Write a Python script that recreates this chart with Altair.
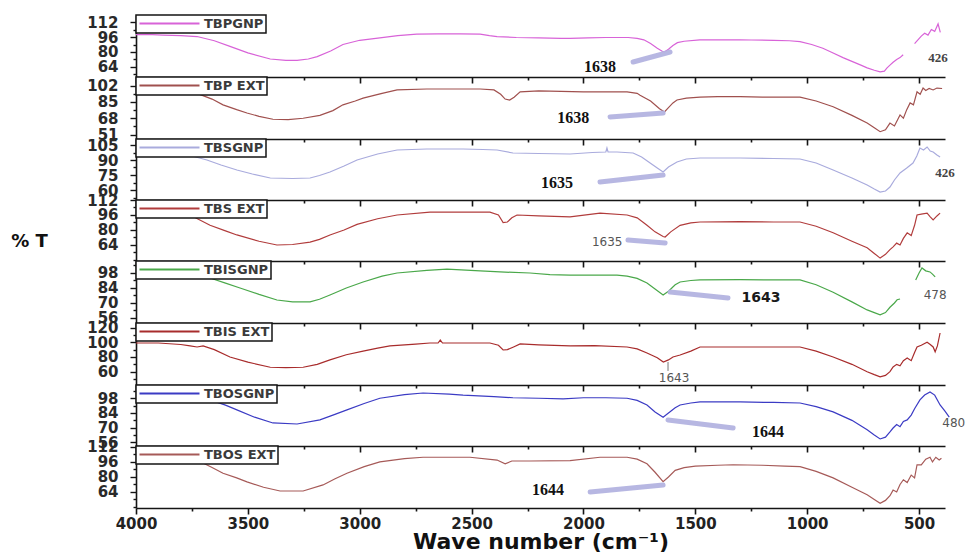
import altair as alt
import pandas as pd

# ---------------- data ----------------
names = ["TBPGNP", "TBP EXT", "TBSGNP", "TBS EXT", "TBISGNP", "TBIS EXT", "TBOSGNP", "TBOS EXT"]
colors = ["#d863d8", "#a0504e", "#a9abdd", "#b13c3c", "#4aa84a", "#a82c2c", "#3b3bc4", "#a65a58"]

y_domains = [[53.3, 119.5], [46.4, 111], [50, 111], [46.9, 112],
             [51.3, 109.2], [41.9, 126.2], [52.6, 110.6], [46.9, 113]]
y_major = [[112, 96, 80, 64], [102, 85, 68, 51], [105, 90, 75, 60], [112, 96, 80, 64],
           [98, 84, 70, 56], [120, 100, 80, 60], [98, 84, 70, 56], [112, 96, 80, 64]]
y_minor = [[104, 88, 72, 56], [93.5, 76.5, 59.5], [97.5, 82.5, 67.5, 52.5], [104, 88, 72, 56, 48],
           [105, 91, 77, 63], [110, 90, 70, 50], [105, 91, 77, 63], [104, 88, 72, 56, 48]]
heights = [62, 62, 61, 61, 62, 62, 61, 62]
x_ticks = [4000, 3750, 3500, 3250, 3000, 2750, 2500, 2250, 2000, 1750, 1500, 1250, 1000, 750, 500]

p1_wn = [4000, 3950, 3880, 3800, 3727, 3650, 3580, 3500, 3400, 3330,
         3280, 3230, 3190, 3130, 3075, 3000, 2910, 2830, 2745, 2650,
         2550, 2462, 2420, 2386, 2300, 2200, 2100, 2060, 1980, 1900,
         1800, 1760, 1730, 1700, 1670, 1650, 1638, 1620, 1600, 1580,
         1550, 1480, 1400, 1300, 1250, 1150, 1080, 1032, 980, 930,
         884, 840, 800, 760, 732, 700, 674, 655, 643, 630,
         616, 600, 585, 571,
         520, 505, 490, 475, 460, 445, 430, 415, 405]
p1_t = [98.5, 98.8, 98.0, 97.5, 96.5, 92, 86, 79, 72.5, 71,
        71, 72.5, 75, 81, 88, 92.5, 95, 97.5, 99, 99.3,
        99.3, 99, 97.5, 96.5, 95.5, 95, 94.5, 94.5, 95, 95.5,
        95.5, 94.5, 93, 89, 84, 81, 80, 83, 87, 90,
        91.5, 93, 93, 93, 92.8, 92.5, 92, 91, 88, 84,
        79, 74, 70, 66, 63, 60.5, 58.7, 59.5, 63, 66,
        69, 72, 74, 77,
        89, 93, 97, 100, 98, 104, 102, 110, 101]
p1_seg = [0] * 64 + [1] * 9

p2_wn = [4000, 3900, 3800, 3727, 3660, 3611, 3550, 3504, 3450, 3388,
         3320, 3253, 3178, 3120, 3075, 3020, 2985, 2900, 2833, 2700,
         2600, 2462, 2400, 2370, 2350, 2330, 2310, 2283, 2200, 2100,
         2000, 1900, 1805, 1760, 1747, 1700, 1660, 1638, 1620, 1600,
         1582, 1540, 1479, 1400, 1300, 1200, 1100, 1032, 960, 884,
         800, 732, 700, 674, 650, 630, 610, 585, 570, 555,
         540, 525, 509, 495, 482, 470, 455, 437, 420, 397]
p2_t = [97.5, 97.5, 97, 94, 88, 82, 77, 73.5, 70, 67,
        66.5, 68, 71, 76, 82, 86, 89, 94, 97.5, 98.5,
        98.5, 98.5, 97.5, 93, 88, 87, 90, 95.5, 96.5, 96,
        95.5, 95.5, 95.5, 94, 92, 86, 78, 74.5, 79, 84,
        87, 89, 90, 90.5, 90.5, 90, 90, 90, 86, 80,
        71, 63, 58, 54, 56, 63, 60, 71.5, 68, 77,
        84, 82, 95.5, 93, 99.5, 97, 99, 97.5, 99.5, 99]
p2_seg = [0] * 70

p3_wn = [4000, 3900, 3800, 3683, 3620, 3549, 3480, 3400, 3300, 3222,
         3180, 3133, 3070, 3012, 2920, 2833, 2700, 2538, 2450, 2386,
         2315, 2200, 2060, 1960, 1900, 1895, 1890, 1850, 1778, 1740,
         1702, 1670, 1644, 1620, 1582, 1540, 1479, 1300, 1150, 1032,
         960, 884, 800, 732, 700, 674, 650, 630, 610, 585,
         555, 527, 510, 496, 480, 464, 450, 437, 420, 406]
p3_t = [100, 99.5, 97, 90, 85, 80, 76, 72, 71.5, 72,
        74.5, 78, 84, 90, 96, 100, 101, 101, 100.5, 100,
        97, 96.5, 96, 97.5, 98, 102, 98, 98, 97, 93,
        87, 82, 78, 83, 88, 91, 92, 92, 91.5, 91,
        87, 80, 72, 65, 61, 58, 59, 63, 70, 77,
        82, 87, 94, 102, 100, 103, 99, 98, 95, 93]
p3_seg = [0] * 60

p4_wn = [4000, 3900, 3800, 3758, 3669, 3600, 3549, 3450, 3370, 3300,
         3222, 3180, 3133, 3070, 3012, 2920, 2833, 2686, 2500, 2418,
         2380, 2359, 2340, 2320, 2297, 2200, 2060, 1926, 1805, 1760,
         1716, 1680, 1644, 1635, 1610, 1568, 1520, 1479, 1300, 1150,
         1032, 960, 884, 800, 732, 700, 674, 650, 630, 616,
         600, 585, 570, 553, 535, 520, 509, 490, 464, 450,
         437, 420, 406]
p4_t = [98, 98, 97.5, 96, 85, 79, 74.7, 68, 64, 64.5,
        67, 70, 74.7, 80, 86, 92, 96, 99, 99, 99,
        96, 88, 88.5, 93, 96, 95, 94, 98, 96, 93,
        85, 78, 73, 72.5, 78, 85, 87.5, 88.5, 89, 88.5,
        88.5, 84, 77, 68, 61, 55, 50, 54, 59, 62,
        66, 64, 71, 77, 74, 85, 96, 97, 98, 94,
        90.7, 95, 98]
p4_seg = [0] * 63

p5_wn = [4000, 3900, 3800, 3669, 3600, 3535, 3450, 3370, 3300, 3222,
         3180, 3133, 3060, 2985, 2900, 2833, 2700, 2610, 2462, 2373,
         2239, 2150, 2060, 1950, 1850, 1805, 1760, 1716, 1680, 1644,
         1620, 1590, 1568, 1520, 1479, 1300, 1150, 1032, 960, 884,
         800, 732, 700, 674, 650, 630, 610, 598, 585,
         515, 500, 487, 470, 451, 440, 428]
p5_t = [100, 100, 98, 93.3, 88.5, 84, 78, 72.8, 71, 71,
        73.5, 77.5, 84, 89.6, 95, 98, 100.5, 101.7, 100, 99,
        98, 96.5, 96, 96, 96, 95, 93, 88.7, 83, 77.5,
        81, 87, 89.6, 91, 91.5, 91.8, 91.5, 91.5, 87, 80,
        71, 63.5, 61, 59, 61, 66, 70, 73, 73.7,
        91.5, 98, 102.7, 100, 99, 97, 94.3]
p5_seg = [0] * 49 + [1] * 7

p6_wn = [4000, 3900, 3800, 3758, 3727, 3700, 3650, 3580, 3500, 3400,
         3330, 3253, 3190, 3133, 3060, 2985, 2920, 2865, 2750, 2686,
         2650, 2640, 2630, 2500, 2418, 2380, 2359, 2340, 2310, 2283,
         2200, 2060, 1950, 1805, 1760, 1716, 1670, 1643, 1620, 1600,
         1568, 1520, 1479, 1300, 1150, 1032, 960, 884, 800, 732,
         700, 674, 650, 630, 616, 600, 585, 570, 553, 535,
         520, 509, 490, 464, 450, 437, 428, 418, 406]
p6_t = [99, 99, 97, 95, 93.6, 95, 90, 80, 73, 66,
        65.5, 66, 70, 76, 83, 88, 92, 95, 97.5, 99,
        99, 103, 99, 99, 99, 96, 89.5, 90, 94, 97.7,
        96.5, 95, 95.5, 93.6, 91, 85.4, 79, 73.2, 76, 80,
        82.7, 88, 93.6, 93.6, 93.6, 93.6, 88, 80, 70, 60,
        56, 53, 55, 60, 66.4, 70, 68, 75, 78.6, 75,
        86, 93.6, 96, 100, 97, 93.6, 87, 95, 112.6]
p6_seg = [0] * 69

p7_wn = [4000, 3900, 3800, 3669, 3600, 3549, 3470, 3388, 3280, 3178,
         3120, 3057, 2980, 2910, 2800, 2717, 2600, 2538, 2400, 2315,
         2200, 2091, 2000, 1900, 1805, 1760, 1716, 1680, 1644, 1620,
         1590, 1568, 1520, 1479, 1300, 1150, 1032, 960, 884, 800,
         732, 700, 674, 650, 630, 616, 600, 585, 570, 553,
         535, 520, 496, 475, 451, 430, 406, 385, 365]
p7_t = [102, 102, 100, 96.4, 91.5, 87, 80, 74.5, 73.5, 77.4,
        82, 87, 93, 98, 101.5, 103, 102, 101, 99.5, 98.5,
        98, 97.5, 98.5, 98.5, 98, 96, 91.6, 85, 80, 84,
        89, 91.6, 93.5, 94.5, 94.5, 94, 93.5, 90, 85, 77,
        68, 63, 59.3, 61, 66, 69.7, 73, 71, 76, 77.4,
        82, 88, 96.4, 101, 104, 101, 91.6, 86, 80]
p7_seg = [0] * 59

p8_wn = [4000, 3900, 3800, 3727, 3660, 3611, 3550, 3504, 3430, 3356,
         3253, 3164, 3110, 3057, 2980, 2910, 2800, 2717, 2507, 2386,
         2350, 2320, 2239, 2060, 1926, 1805, 1760, 1716, 1680, 1644,
         1620, 1590, 1550, 1500, 1400, 1331, 1200, 1100, 1032, 960,
         884, 800, 732, 700, 674, 650, 630, 616, 600, 585,
         570, 553, 535, 520, 509, 490, 470, 451, 440, 425,
         410, 400]
p8_t = [100, 100, 99.5, 98, 90, 84, 79, 74.7, 69, 65,
        65, 71.5, 78, 84, 91, 96, 99.5, 101, 101, 98,
        94, 97, 97, 97.5, 101, 101, 99, 94, 85, 75,
        80, 87, 90, 91.5, 92.5, 93, 92.5, 91.5, 91, 86,
        79, 69, 61, 56, 52, 55, 60, 66, 64, 72,
        77, 74, 82, 79, 93, 92.8, 99, 101, 96, 101,
        98, 100]
p8_seg = [0] * 62

spectra_wn = [p1_wn, p2_wn, p3_wn, p4_wn, p5_wn, p6_wn, p7_wn, p8_wn]
spectra_t = [p1_t, p2_t, p3_t, p4_t, p5_t, p6_t, p7_t, p8_t]
spectra_seg = [p1_seg, p2_seg, p3_seg, p4_seg, p5_seg, p6_seg, p7_seg, p8_seg]

# peak annotations (text position in data units)
peak_labels = ["1638", "1638", "1635", "1635", "1643", "1643", "1644", "1644"]
peak_label_wn = [1926, 2046, 2118, 1894, 1206, 1595, 1175, 2158]
peak_label_t = [64, 68.3, 67, 67.2, 74.7, 51.4, 66, 66]
peak_label_style = ["serif", "serif", "serif", "gray", "sansbold", "gray", "serif", "serif"]
callout_wn = [[1778, 1613], [1881, 1644], [1926, 1644], [1801, 1635],
              [1613, 1354], [1622, 1622], [1622, 1331], [1970, 1644]]
callout_t = [[69.3, 80], [69.4, 73.5], [68, 75], [69.3, 66],
             [80.3, 74.7], [73.2, 61], [77.4, 69.7], [64, 71.5]]
callout_style = ["lav", "lav", "lav", "lav", "lav", "tick", "lav", "lav"]

end_label_panel = [0, 2, 4, 6]
end_label_text = ["426", "426", "478", "480"]
end_label_wn = [415, 384, 428, 345]
end_label_t = [73.6, 77, 77.5, 74.5]
end_label_style = ["endserif", "endserif", "end", "end"]

# ---------------- styles ----------------
text_styles = {
    "serif": dict(font="Liberation Serif", fontSize=16, fontWeight="bold", color="#111111"),
    "gray": dict(font="DejaVu Sans", fontSize=12, color="#555555"),
    "sansbold": dict(font="DejaVu Sans", fontSize=14, fontWeight="bold", color="#1a1a1a"),
    "endserif": dict(font="Liberation Serif", fontSize=13, fontWeight="bold", color="#444444"),
    "end": dict(font="DejaVu Sans", fontSize=12, color="#555555"),
}
AX = "#151515"


def make_panel(i):
    n = len(names)
    bottom = i == n - 1
    df = pd.DataFrame({"wn": spectra_wn[i], "t": spectra_t[i],
                       "seg": spectra_seg[i], "sample": names[i]})

    xaxis_kw = dict(values=x_ticks, grid=False, domainColor=AX, domainWidth=1.6,
                    tickColor=AX, tickWidth=1.6, labelFlush=False, labelOverlap=False,
                    tickSize={"condition": {"test": "datum.value % 500 == 0", "value": 6}, "value": 3})
    if bottom:
        xaxis_kw.update(labels=True, format="d",
                        labelExpr="datum.value % 500 == 0 ? datum.label : ''",
                        labelFont="DejaVu Sans", labelFontSize=15, labelFontWeight="bold",
                        labelColor="#222222", labelPadding=2,
                        title="Wave number (cm\u207b\u00b9)", titleFont="DejaVu Sans",
                        titleFontSize=22, titleFontWeight="bold", titleColor="#111111",
                        titlePadding=0)
        x = alt.X("wn:Q", scale=alt.Scale(domain=[4000, 384], nice=False, zero=False),
                  axis=alt.Axis(**xaxis_kw))
    else:
        xaxis_kw.update(labels=False)
        x = alt.X("wn:Q", scale=alt.Scale(domain=[4000, 384], nice=False, zero=False),
                  axis=alt.Axis(**xaxis_kw), title=None)

    major = y_major[i]
    test = "indexof([" + ",".join(str(v) for v in major) + "], datum.value) >= 0"
    yvals = sorted(major + y_minor[i], reverse=True)
    yaxis_kw = dict(values=yvals, grid=False, domainColor=AX, domainWidth=1.6,
                    tickColor=AX, tickWidth=1.4, labelFlush=False, labelOverlap=False,
                    tickSize={"condition": {"test": test, "value": 6}, "value": 3},
                    labelExpr=test + " ? format(datum.value, 'd') : ''",
                    labelFont="DejaVu Sans", labelFontSize=15, labelFontWeight="bold",
                    labelColor="#2a2a2a", labelPadding=12)
    if i == 3:
        yaxis_kw.update(title="% T", titleAngle=0, titleX=-107, titleY=41,
                        titleAlign="center", titleBaseline="middle",
                        titleFont="DejaVu Sans", titleFontSize=18, titleFontWeight="bold",
                        titleColor="#111111")
        y = alt.Y("t:Q", scale=alt.Scale(domain=y_domains[i], nice=False, zero=False),
                  axis=alt.Axis(**yaxis_kw))
    else:
        y = alt.Y("t:Q", scale=alt.Scale(domain=y_domains[i], nice=False, zero=False),
                  axis=alt.Axis(**yaxis_kw), title=None)

    legend = alt.Legend(title=None, orient="top-left", offset=0,
                        symbolType="M-1,0H11", symbolSize=100, symbolStrokeWidth=2,
                        labelOffset=53, labelFont="DejaVu Sans", labelFontSize=13,
                        labelFontWeight="bold", labelColor="#3a3a3a",
                        strokeColor=AX, fillColor="white", padding=2, cornerRadius=0)

    line = alt.Chart(df).mark_line(strokeWidth=1.2).encode(
        x=x, y=y,
        color=alt.Color("sample:N", scale=alt.Scale(domain=[names[i]], range=[colors[i]]),
                        legend=legend),
        detail="seg:N",
        order="index:Q",
    ).transform_window(index="row_number()")

    cdf = pd.DataFrame({"wn": callout_wn[i], "t": callout_t[i], "cid": [0, 0]})
    if callout_style[i] == "lav":
        call = alt.Chart(cdf).mark_line(strokeWidth=5, color="#b3b3e0", strokeCap="round",
                                        opacity=0.95).encode(x=x, y=y, detail="cid:N")
    else:
        call = alt.Chart(cdf).mark_line(strokeWidth=1, color="#777777").encode(
            x=x, y=y, detail="cid:N")

    layers = [line, call]
    tdf = pd.DataFrame({"wn": [peak_label_wn[i]], "t": [peak_label_t[i]], "label": [peak_labels[i]]})
    layers.append(alt.Chart(tdf).mark_text(align="center", baseline="middle",
                                           **text_styles[peak_label_style[i]]).encode(
        x=x, y=y, text="label:N"))
    if i in end_label_panel:
        k = end_label_panel.index(i)
        edf = pd.DataFrame({"wn": [end_label_wn[k]], "t": [end_label_t[k]], "label": [end_label_text[k]]})
        layers.append(alt.Chart(edf).mark_text(align="center", baseline="middle",
                                               **text_styles[end_label_style[k]]).encode(
            x=x, y=y, text="label:N"))

    return alt.layer(*layers).properties(width=809, height=heights[i])


panels = [make_panel(i) for i in range(len(names))]

chart = alt.vconcat(*panels, spacing=0, bounds="flush").resolve_scale(
    x="independent", y="independent", color="independent"
).resolve_legend(color="independent").properties(
    padding={"left": 10, "top": 14, "right": 0, "bottom": 0}
).configure_view(strokeWidth=0).configure_legend(strokeWidth=1.5)

chart.save("out.html", embed_options={"renderer": "svg", "actions": False})
